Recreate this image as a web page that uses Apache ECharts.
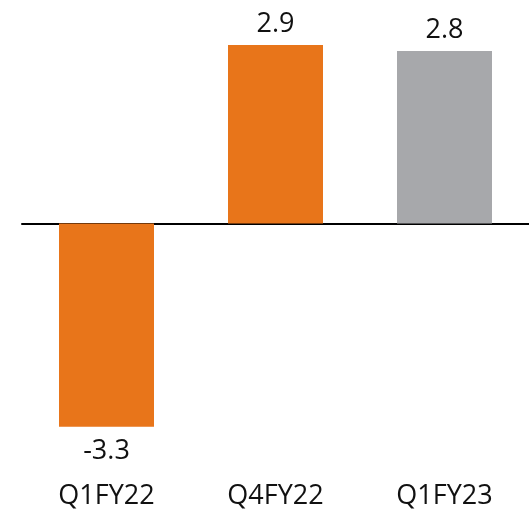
<!DOCTYPE html>
<html>
<head>
<meta charset="utf-8">
<style>
    html, body { margin: 0; padding: 0; background: #fff; }
    #main { width: 529px; height: 512px; }
</style>
<script src="https://cdn.jsdelivr.net/npm/echarts@6/dist/echarts.min.js"></script>
</head>
<body>
<div id="main"></div>
<script>
    // 数据
    var categories = ['Q1FY22', 'Q4FY22', 'Q1FY23'];
    var values = [-3.3, 2.9, 2.8];

    // 样式
    var barColors = ['#e8751a', '#e8751a', '#a7a8ab'];
    var fontFamily = '"Open Sans", "Liberation Sans", sans-serif';

    var seriesData = values.map(function (v, i) {
        return {
            value: v,
            itemStyle: {color: barColors[i]},
            label: {
                position: v < 0 ? 'bottom' : 'top',
                distance: v < 0 ? 11 : 7
            }
        };
    });

    var myChart = echarts.init(document.getElementById('main'));
    var opt = {
        animation: false,
        grid: {
            left: 22,
            top: 8,
            width: 516,
            height: 431
        },
        xAxis: [{
            type: 'category',
            data: categories,
            axisLine: {
                onZero: true,
                lineStyle: {color: '#000', width: 2}
            },
            axisTick: {show: false},
            axisLabel: {show: false}
        }, {
            type: 'category',
            data: categories,
            position: 'bottom',
            axisLine: {show: false},
            axisTick: {show: false},
            axisLabel: {
                color: '#111',
                fontSize: 27,
                fontFamily: fontFamily,
                margin: 44
            }
        }],
        yAxis: {
            type: 'value',
            min: -3.5,
            max: 3.5,
            show: false,
            splitLine: {show: false}
        },
        series: [{
            type: 'bar',
            xAxisIndex: 0,
            barWidth: 95,
            data: seriesData,
            label: {
                show: true,
                color: '#111',
                fontSize: 27,
                fontFamily: fontFamily
            }
        }]
    };
    myChart.setOption(opt);
</script>
</body>
</html>
